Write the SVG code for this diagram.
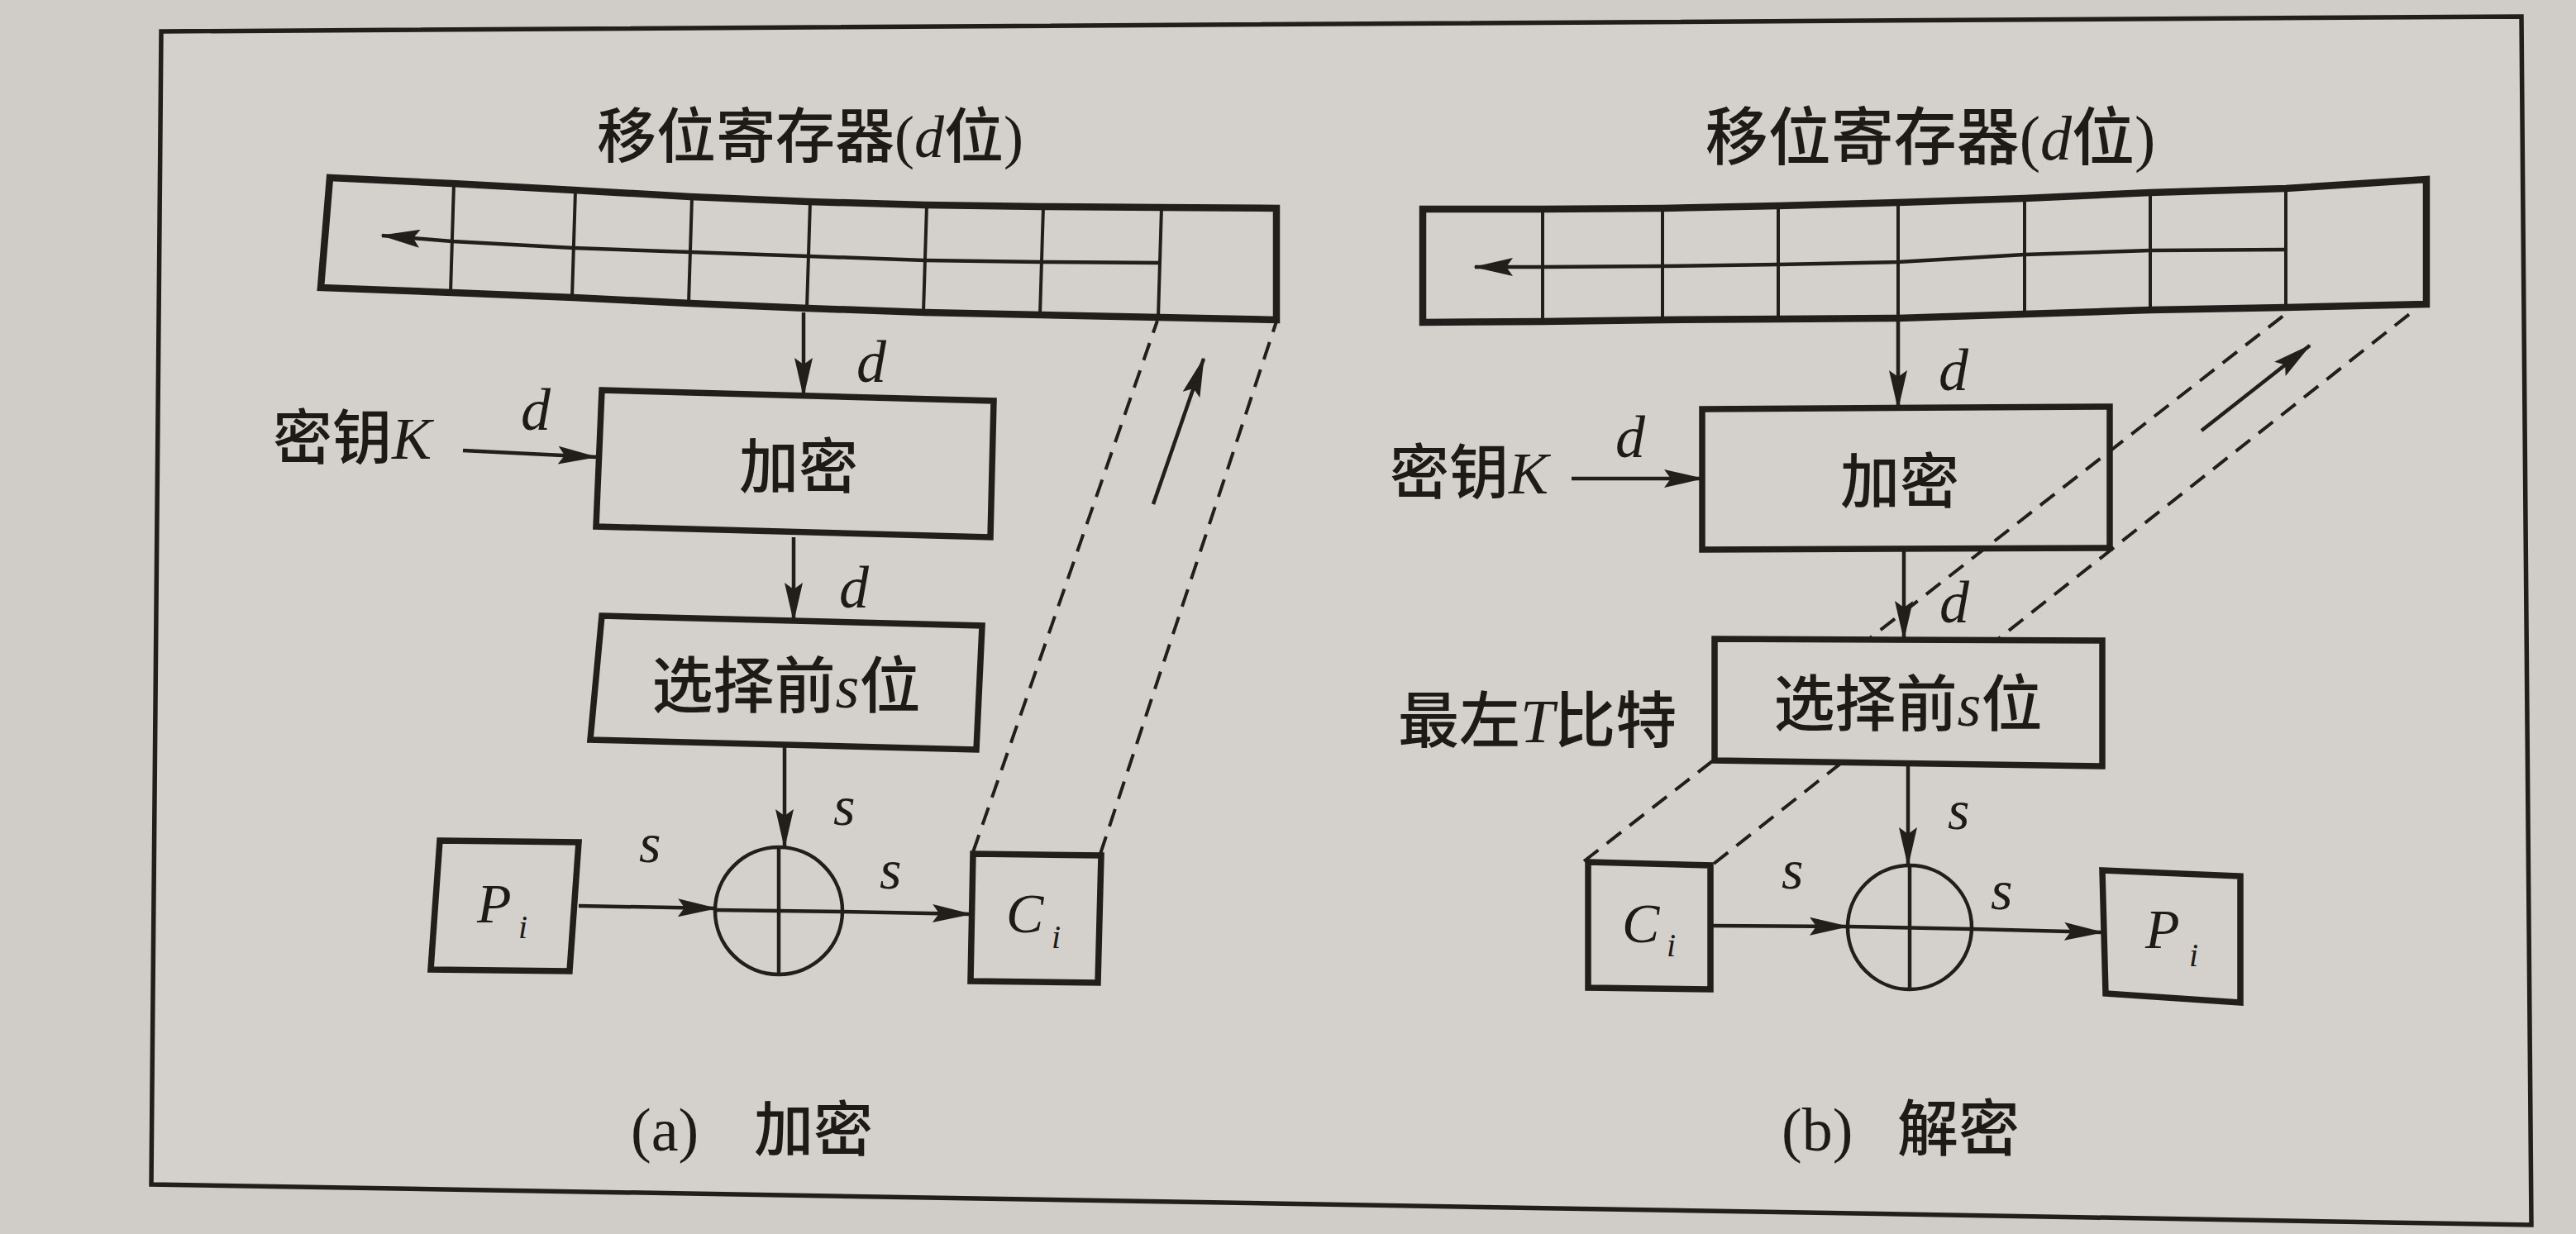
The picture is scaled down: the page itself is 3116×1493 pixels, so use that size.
<svg xmlns="http://www.w3.org/2000/svg" width="3116" height="1493" viewBox="0 0 3116 1493">
<style>
.ln{stroke:#221e1c;stroke-width:4.5;fill:none}
.box{stroke:#221e1c;stroke-width:7.5;fill:none;stroke-linejoin:miter}
.reg{stroke:#221e1c;stroke-width:8.5;fill:none}
.cell{stroke:#221e1c;stroke-width:4}
.dash{stroke:#221e1c;stroke-width:4;fill:none;stroke-dasharray:22 13}
.cjk{font-family:"Noto Sans CJK SC","Noto Sans CJK JP",sans-serif;font-weight:500;fill:#1e1a18}
.it{font-family:"Liberation Serif",serif;font-style:italic;fill:#1e1a18}
.ser{font-family:"Liberation Serif",serif;fill:#1e1a18}
</style>
<defs>
<marker id="ah" markerUnits="userSpaceOnUse" markerWidth="48" markerHeight="22" refX="46" refY="11" orient="auto">
<path d="M0,0 L48,11 L0,22 L8,11 z" fill="#221e1c"/>
</marker>
</defs>
<rect width="3116" height="1493" fill="#d0cdc8"/>
<polygon points="195,38 3050,20 3062,1482 183,1433" fill="#d4d1cc" stroke="#221e1c" stroke-width="5.5"/>

<!-- LEFT PANEL (a) -->
<g id="title-a"><text class="cjk" x="980" y="190" font-size="72" text-anchor="middle">移位寄存器<tspan class="ser">(</tspan><tspan class="it">d</tspan>位<tspan class="ser">)</tspan></text></g>
<g id="register-a">
<path class="reg" d="M399,215 L547,222 L694,230 L835,238 L978,244 L1119,248 L1260,250 L1403,251 L1544,252 L1544,387 L1403,384 L1260,381 L1119,378 L978,373 L835,367 L694,360 L547,354 L388,348 Z"/>
<line class="cell" x1="549" y1="222" x2="545" y2="354"/>
<line class="cell" x1="696" y1="230" x2="692" y2="360"/>
<line class="cell" x1="837" y1="238" x2="833" y2="367"/>
<line class="cell" x1="980" y1="244" x2="976" y2="373"/>
<line class="cell" x1="1121" y1="248" x2="1117" y2="378"/>
<line class="cell" x1="1262" y1="250" x2="1258" y2="381"/>
<line class="cell" x1="1405" y1="251" x2="1401" y2="384"/>
<polyline class="ln" points="1403,318 1260,317 1119,315 978,310 835,305 694,300 547,292 462,285" marker-end="url(#ah)"/>
</g>
<g id="encrypt-a">
<polygon class="box" points="728,472 1202,485 1198,650 721,637"/>
<text class="cjk" x="966" y="590" font-size="72" text-anchor="middle">加密</text>
</g>
<g id="key-a"><text class="cjk" x="330" y="555" font-size="72">密钥<tspan class="it">K</tspan></text></g>
<g id="select-a">
<polygon class="box" points="728,745 1188,757 1181,907 714,895"/>
<text class="cjk" x="951" y="856" font-size="74" text-anchor="middle">选择前<tspan class="it">s</tspan>位</text>
</g>
<g id="xor-a">
<circle cx="942" cy="1102" r="77" class="ln" stroke-width="6"/>
<line class="ln" x1="942" y1="1025" x2="942" y2="1179"/>
<line class="ln" x1="865" y1="1101" x2="1019" y2="1103"/>
</g>
<g id="p-a">
<polygon class="box" points="532,1017 700,1019 689,1175 521,1173"/>
<text class="it" x="577" y="1116" font-size="68">P</text><text class="it" x="627" y="1135" font-size="40">i</text>
</g>
<g id="c-a">
<polygon class="box" points="1177,1033 1332,1035 1328,1189 1174,1187"/>
<text class="it" x="1217" y="1128" font-size="68">C</text><text class="it" x="1272" y="1147" font-size="40">i</text>
</g>
<g id="caption-a"><text class="ser" x="763" y="1392" font-size="74">(a)</text><text class="cjk" x="912" y="1392" font-size="72">加密</text></g>

<!-- RIGHT PANEL (b) -->
<g id="title-b"><text class="cjk" x="2335" y="193" font-size="76" text-anchor="middle">移位寄存器<tspan class="ser">(</tspan><tspan class="it">d</tspan>位<tspan class="ser">)</tspan></text></g>
<g id="register-b">
<path class="reg" d="M1721,253 L1866,253 L2011,252 L2151,249 L2296,245 L2449,240 L2601,233 L2765,228 L2935,217 L2935,368 L2765,372 L2601,375 L2449,380 L2296,385 L2151,386 L2011,387 L1866,389 L1721,390 Z"/>
<line class="cell" x1="1866" y1="253" x2="1866" y2="389"/>
<line class="cell" x1="2011" y1="252" x2="2011" y2="387"/>
<line class="cell" x1="2151" y1="249" x2="2151" y2="386"/>
<line class="cell" x1="2296" y1="245" x2="2296" y2="385"/>
<line class="cell" x1="2449" y1="240" x2="2449" y2="380"/>
<line class="cell" x1="2601" y1="233" x2="2601" y2="375"/>
<line class="cell" x1="2765" y1="228" x2="2765" y2="372"/>
<polyline class="ln" points="2765,302 2601,303 2449,308 2296,317 2151,320 2011,322 1866,323 1784,323" marker-end="url(#ah)"/>
</g>
<g id="encrypt-b">
<polygon class="box" points="2059,495 2552,492 2552,663 2059,665"/>
<text class="cjk" x="2298" y="608" font-size="72" text-anchor="middle">加密</text>
</g>
<g id="key-b"><text class="cjk" x="1681" y="597" font-size="72">密钥<tspan class="it">K</tspan></text></g>
<g id="leftmost-b"><text class="cjk" x="1691" y="898" font-size="74">最左<tspan class="it">T</tspan>比特</text></g>
<g id="xor-b">
<circle cx="2310" cy="1122" r="75" class="ln" stroke-width="6"/>
<line class="ln" x1="2310" y1="1047" x2="2310" y2="1197"/>
<line class="ln" x1="2235" y1="1121" x2="2385" y2="1124"/>
</g>
<g id="c-b">
<polygon class="box" points="1921,1043 2069,1047 2069,1197 1921,1195"/>
<text class="it" x="1962" y="1140" font-size="68">C</text><text class="it" x="2016" y="1157" font-size="40">i</text>
</g>
<g id="p-b">
<polygon class="box" points="2543,1053 2710,1060 2710,1213 2547,1202"/>
<text class="it" x="2595" y="1147" font-size="68">P</text><text class="it" x="2648" y="1169" font-size="40">i</text>
</g>
<g id="caption-b"><text class="ser" x="2155" y="1392" font-size="74">(b)</text><text class="cjk" x="2295" y="1392" font-size="74">解密</text></g>

<!-- CONNECTORS -->
<g id="connectors">
<line class="ln" x1="972" y1="378" x2="972" y2="479" marker-end="url(#ah)"/>
<line class="ln" x1="560" y1="545" x2="721" y2="553" marker-end="url(#ah)"/>
<line class="ln" x1="960" y1="650" x2="960" y2="751" marker-end="url(#ah)"/>
<line class="ln" x1="949" y1="904" x2="949" y2="1025" marker-end="url(#ah)"/>
<line class="ln" x1="700" y1="1096" x2="866" y2="1099" marker-end="url(#ah)"/>
<line class="ln" x1="1019" y1="1103" x2="1174" y2="1106" marker-end="url(#ah)"/>
<line class="dash" x1="1177" y1="1031" x2="1400" y2="388"/>
<line class="dash" x1="1331" y1="1033" x2="1544" y2="389"/>
<line class="ln" x1="1395" y1="610" x2="1456" y2="434" marker-end="url(#ah)"/>
<text class="it" x="1036" y="462" font-size="72">d</text>
<text class="it" x="630" y="520" font-size="72">d</text>
<text class="it" x="1015" y="735" font-size="72">d</text>
<text class="it" x="1008" y="998" font-size="68">s</text>
<text class="it" x="773" y="1043" font-size="68">s</text>
<text class="it" x="1064" y="1075" font-size="68">s</text>

<line class="ln" x1="2296" y1="387" x2="2296" y2="494" marker-end="url(#ah)"/>
<line class="ln" x1="1901" y1="579" x2="2059" y2="579" marker-end="url(#ah)"/>
<line class="ln" x1="2303" y1="664" x2="2303" y2="773" marker-end="url(#ah)"/>
<line class="ln" x1="2308" y1="925" x2="2308" y2="1047" marker-end="url(#ah)"/>
<line class="ln" x1="2069" y1="1120" x2="2235" y2="1121" marker-end="url(#ah)"/>
<line class="ln" x1="2385" y1="1124" x2="2543" y2="1128" marker-end="url(#ah)"/>
<line class="dash" x1="1916" y1="1042" x2="2762" y2="382"/>
<line class="dash" x1="2073" y1="1045" x2="2917" y2="378"/>
<line class="ln" x1="2663" y1="521" x2="2794" y2="418" marker-end="url(#ah)"/>
<text class="it" x="2345" y="472" font-size="72">d</text>
<text class="it" x="1954" y="553" font-size="72">d</text>
<text class="it" x="2346" y="753" font-size="72">d</text>
<text class="it" x="2356" y="1003" font-size="68">s</text>
<text class="it" x="2155" y="1075" font-size="68">s</text>
<text class="it" x="2408" y="1100" font-size="68">s</text>
</g>

<g id="select-b">
<polygon points="2074,773 2543,775 2543,927 2074,920" fill="#d4d1cc" stroke="#221e1c" stroke-width="7.5"/>
<text class="cjk" x="2308" y="878" font-size="74" text-anchor="middle">选择前<tspan class="it">s</tspan>位</text>
</g>
</svg>
